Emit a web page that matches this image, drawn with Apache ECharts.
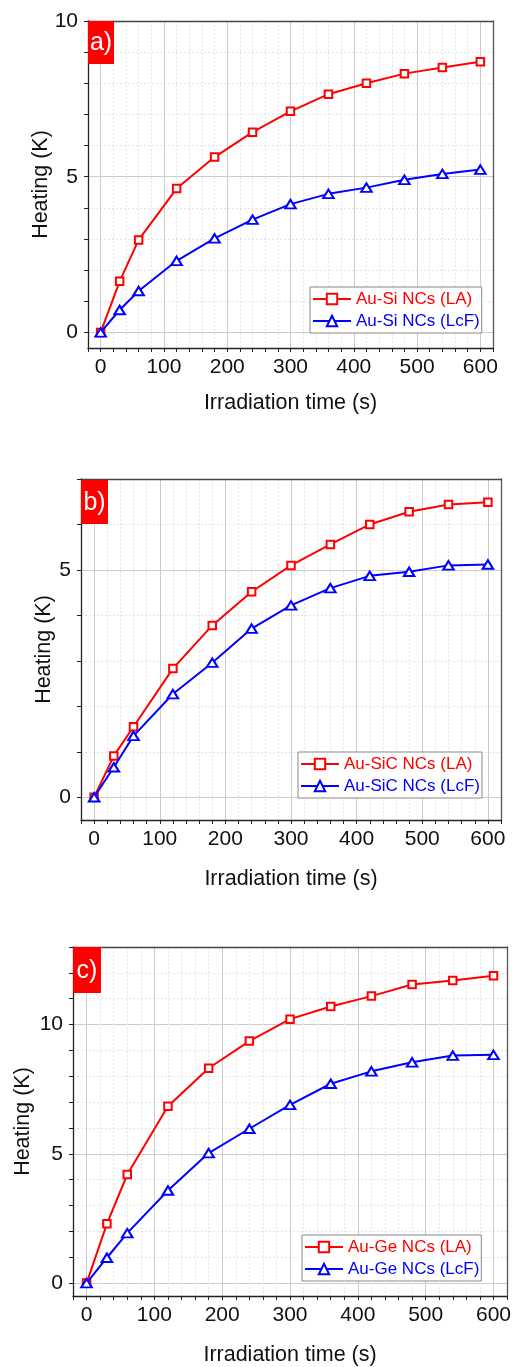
<!DOCTYPE html>
<html>
<head>
<meta charset="utf-8">
<script src="https://cdn.jsdelivr.net/npm/echarts@6/dist/echarts.min.js"></script>
<style>
html,body{margin:0;padding:0;background:#fff;}
#chart{width:514px;height:1367px;}
</style>
</head>
<body>
<div id="chart"></div>
<script>
// ---- data ----
const timeS = [0, 30, 60, 120, 180, 240, 300, 360, 420, 480, 540, 600];
const siLA   = [0, 1.64, 2.97, 4.62, 5.63, 6.43, 7.10, 7.65, 8.00, 8.31, 8.51, 8.69];
const siLcF  = [0, 0.72, 1.33, 2.30, 3.02, 3.62, 4.12, 4.45, 4.65, 4.90, 5.09, 5.23];
const sicLA  = [0, 0.91, 1.55, 2.83, 3.78, 4.52, 5.10, 5.56, 6.00, 6.28, 6.44, 6.49];
const sicLcF = [0, 0.66, 1.35, 2.27, 2.96, 3.71, 4.22, 4.60, 4.87, 4.96, 5.10, 5.12];
const geLA   = [0, 2.29, 4.20, 6.84, 8.31, 9.36, 10.21, 10.70, 11.10, 11.55, 11.70, 11.89];
const geLcF  = [0, 0.98, 1.93, 3.58, 5.03, 5.97, 6.89, 7.71, 8.19, 8.54, 8.80, 8.83];

const seriesNames = [
  ['Au-Si NCs (LA)', 'Au-Si NCs (LcF)'],
  ['Au-SiC NCs (LA)', 'Au-SiC NCs (LcF)'],
  ['Au-Ge NCs (LA)', 'Au-Ge NCs (LcF)']
];
const panelLabels = ['a)', 'b)', 'c)'];

// ---- tick labels ----
const xMajorTicks = [0, 100, 200, 300, 400, 500, 600];
const xMinorTicks = [-20, 0, 20, 40, 60, 80, 100, 120, 140, 160, 180, 200, 220, 240, 260, 280, 300,
  320, 340, 360, 380, 400, 420, 440, 460, 480, 500, 520, 540, 560, 580, 600, 620];
const yMajorA = [0, 5, 10];
const yMinorA = [0, 1, 2, 3, 4, 5, 6, 7, 8, 9, 10];
const yMajorB = [0, 5];
const yMinorB = [0, 1, 2, 3, 4, 5, 6, 7];
const yMajorC = [0, 5, 10];
const yMinorC = [0, 1, 2, 3, 4, 5, 6, 7, 8, 9, 10, 11, 12, 13];
const yMaxes = [10, 7, 13];

// ---- layout ----
const FONT = 'Liberation Sans, Arial, sans-serif';
const grids = [
  {left: 88, top: 21, width: 405, height: 327},
  {left: 81, top: 479, width: 420, height: 341},
  {left: 73, top: 947, width: 435, height: 350}
];
const yNameGaps = [36, 26, 39];
const xNameGaps = [44, 48, 48];
const legendPos = [
  {left: 310, top: 287},
  {left: 298, top: 752},
  {left: 302, top: 1235}
];
const labelBoxes = [
  {x: 88, y: 21, w: 26, h: 43},
  {x: 81, y: 480, w: 27, h: 44},
  {x: 73, y: 947, w: 28, h: 46}
];
const yMajors = [yMajorA, yMajorB, yMajorC];
const yMinors = [yMinorA, yMinorB, yMinorC];
const dataSets = [[siLA, siLcF], [sicLA, sicLcF], [geLA, geLcF]];

const RED = '#ff0000', BLUE = '#0000ff';

const xAxes = [], yAxes = [], series = [], legends = [], graphics = [];
grids.forEach((g, i) => {
  xAxes.push({
    type: 'value', gridIndex: i, position: 'bottom', min: -20, max: 620,
    name: 'Irradiation time (s)', nameLocation: 'middle', nameGap: xNameGaps[i],
    nameMoveOverlap: false,
    nameTextStyle: {fontSize: 21.5, color: '#111', fontFamily: FONT},
    axisLine: {onZero: false, lineStyle: {color: '#222', width: 1.3}},
    axisTick: {customValues: xMinorTicks, length: 4, lineStyle: {color: '#222', width: 1}},
    axisLabel: {customValues: xMajorTicks, fontSize: 21, color: '#111', fontFamily: FONT, margin: 9},
    splitLine: {show: true, lineStyle: {color: '#e4e4e4', width: 1, type: [2, 2]}}
  });
  xAxes.push({
    type: 'value', gridIndex: i, position: 'top', min: -20, max: 620,
    axisLine: {show: true, onZero: false, lineStyle: {color: '#444', width: 1.3}},
    axisTick: {show: false, customValues: xMajorTicks},
    axisLabel: {show: false},
    splitLine: {show: true, lineStyle: {color: '#cccccc', width: 1}}
  });
  yAxes.push({
    type: 'value', gridIndex: i, position: 'left', min: -0.5, max: yMaxes[i],
    name: 'Heating (K)', nameLocation: 'middle', nameGap: yNameGaps[i],
    nameMoveOverlap: false,
    nameTextStyle: {fontSize: 21.5, color: '#111', fontFamily: FONT},
    axisLine: {onZero: false, lineStyle: {color: '#222', width: 1.3}},
    axisTick: {customValues: yMinors[i], length: 4, lineStyle: {color: '#222', width: 1}},
    axisLabel: {customValues: yMajors[i], fontSize: 21, color: '#111', fontFamily: FONT, margin: 10},
    splitLine: {show: true, lineStyle: {color: '#e4e4e4', width: 1, type: [2, 2]}}
  });
  yAxes.push({
    type: 'value', gridIndex: i, position: 'right', min: -0.5, max: yMaxes[i],
    axisLine: {show: true, onZero: false, lineStyle: {color: '#555', width: 1.3}},
    axisTick: {show: false, customValues: yMajors[i]},
    axisLabel: {show: false},
    splitLine: {show: true, lineStyle: {color: '#cccccc', width: 1}}
  });
  const [la, lcf] = dataSets[i];
  series.push({
    type: 'line', name: seriesNames[i][0], xAxisIndex: 2 * i, yAxisIndex: 2 * i,
    data: timeS.map((t, k) => [t, la[k]]),
    symbol: 'rect', symbolSize: 7.5,
    lineStyle: {color: RED, width: 2},
    itemStyle: {color: '#fff', borderColor: RED, borderWidth: 2},
    color: RED, animation: false, z: 3
  });
  series.push({
    type: 'line', name: seriesNames[i][1], xAxisIndex: 2 * i, yAxisIndex: 2 * i,
    data: timeS.map((t, k) => [t, lcf[k]]),
    symbol: 'triangle', symbolSize: [10.5, 8.5],
    lineStyle: {color: BLUE, width: 2},
    itemStyle: {color: '#fff', borderColor: BLUE, borderWidth: 2},
    color: BLUE, animation: false, z: 4
  });
  legends.push({
    orient: 'vertical', left: legendPos[i].left, top: legendPos[i].top,
    data: [
      {name: seriesNames[i][0], textStyle: {color: RED}},
      {name: seriesNames[i][1], textStyle: {color: BLUE}}
    ],
    itemWidth: 38, itemHeight: 13, itemGap: 4,
    textStyle: {fontSize: 17, fontFamily: FONT, lineHeight: 18},
    padding: [3, 2, 3, 2], borderColor: '#888', borderWidth: 1,
    backgroundColor: '#fff', selectedMode: false
  });
  const b = labelBoxes[i];
  graphics.push({type: 'rect', shape: {x: b.x, y: b.y, width: b.w, height: b.h},
    style: {fill: '#ff0000'}, z: 10});
  graphics.push({type: 'text', x: b.x + b.w / 2, y: b.y + b.h / 2 + 1, z: 11,
    style: {text: panelLabels[i], fill: '#fff', font: '25px ' + FONT, align: 'center', verticalAlign: 'middle'}});
});

const chart = echarts.init(document.getElementById('chart'), null, {renderer: 'canvas'});
chart.setOption({
  backgroundColor: '#fff',
  animation: false,
  grid: grids.map(g => Object.assign({containLabel: false}, g)),
  xAxis: xAxes,
  yAxis: yAxes,
  legend: legends,
  series: series,
  graphic: graphics
});
</script>
</body>
</html>
